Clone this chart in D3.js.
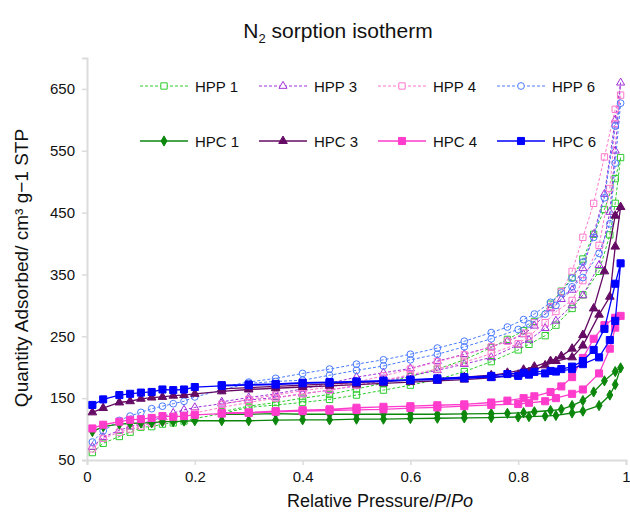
<!DOCTYPE html>
<html>
<head>
<meta charset="UTF-8">
<title>N2 sorption isotherm</title>
<script src="https://d3js.org/d3.v7.min.js"></script>
<style>
  body { margin: 0; background: #fff; }
  text { font-family: "Liberation Sans", Arial, Helvetica, sans-serif; fill: #111; }
</style>
</head>
<body>
<div class="canvas"></div>
<script>
// pressure grids (adsorption up, desorption down)
const adsP = [0.01, 0.03, 0.06, 0.08, 0.10, 0.12, 0.14, 0.16, 0.18, 0.20, 0.25, 0.30, 0.35, 0.40, 0.45, 0.50,
              0.55, 0.60, 0.65, 0.70, 0.75, 0.80, 0.82, 0.85, 0.87, 0.90, 0.92, 0.95, 0.97, 0.98, 0.99];
const desP = [0.98, 0.96, 0.94, 0.92, 0.90, 0.88, 0.86, 0.83, 0.81, 0.78, 0.75, 0.70, 0.65, 0.60, 0.55, 0.50,
              0.45, 0.40, 0.35, 0.30, 0.25];

// quantity adsorbed, cm3/g STP
const hpp1Ads = [62, 77, 88, 95, 103, 104, 108, 110, 113, 117, 125, 135, 139, 143, 148, 155,
                 163, 171, 180, 193, 209, 228, 237, 251, 268, 295, 317, 355, 414, 465, 539];
const hpp1Des = [505, 455, 415, 375, 345, 323, 302, 274, 259, 245, 232, 212, 197, 185, 174, 165,
                 156, 150, 143, 137, 128];
const hpp3Ads = [71, 87, 98, 104, 109, 113, 120, 126, 131, 135, 141, 147, 151, 157, 163, 170,
                 178, 186, 195, 205, 216, 236, 244, 263, 275, 300, 316, 365, 451, 550, 660];
const hpp3Des = [600, 480, 415, 360, 325, 310, 295, 267, 253, 242, 233, 221, 210, 198, 191, 184,
                 174, 165, 157, 151, 144];
const hpp4Ads = [68, 85, 95, 100, 105, 109, 113, 118, 122, 126, 135, 143, 150, 157, 163, 171,
                 179, 188, 197, 208, 222, 238, 250, 272, 290, 308, 340, 397, 489, 594, 640];
const hpp4Des = [617, 540, 465, 410, 355, 322, 298, 272, 255, 242, 233, 220, 209, 197, 186, 176,
                 168, 162, 155, 148, 140];
const hpp6Ads = [79, 97, 114, 121, 127, 133, 137, 141, 145, 152, 163, 174, 177, 179, 187, 195,
                 202, 212, 221, 233, 246, 261, 270, 286, 300, 330, 345, 384, 432, 530, 627];
const hpp6Des = [590, 474, 410, 370, 344, 320, 305, 286, 277, 265, 256, 242, 231, 221, 212, 205,
                 197, 190, 182, 176, 168];
const hpc1Ads = [96, 104, 108, 109, 110, 110, 112, 112, 113, 113.5, 113.5, 113.5, 114.5, 115, 115, 116,
                 116, 117, 117.5, 118, 118.5, 119.5, 120, 121, 122, 126, 129, 138, 155, 172, 199];
const hpc1Des = [193, 178, 160, 146, 138, 132, 130, 128, 126.5, 125.5, 125, 124.5, 124, 124, 124, 124,
                 124, 124, 125, 124, 124];
const hpc3Ads = [127, 134, 143, 145, 149, 151, 152, 154, 155, 157, 161, 164, 166, 168, 170, 172,
                 174, 176, 178, 180, 183, 188, 192, 203, 210, 216, 235, 285, 314, 395, 459];
const hpc3Des = [445, 355, 295, 252, 230, 218, 210, 201, 196, 191, 187, 184, 181, 179, 177, 175,
                 173, 171, 169, 167, 165];
const hpc4Ads = [101, 107, 112, 115, 116, 118, 121, 120, 121, 123, 125, 126, 128, 129, 130, 131,
                 132, 134, 135, 137, 139, 140.5, 142.5, 145, 150, 157, 164, 190, 230, 264, 283];
const hpc4Des = [280, 268, 246, 215, 184, 169, 160, 153, 150, 146, 143, 140, 138.5, 137, 136, 134.5,
                 132, 130.5, 129, 127, 126];
const hpc6Ads = [139, 148, 155, 157, 159, 160, 164, 163, 164, 168, 170, 171, 172, 174, 175, 176,
                 177, 179, 180, 182, 184, 186, 188, 190, 193, 197, 205, 216, 244, 275, 368];
const hpc6Des = [335, 262, 228, 210, 201, 197, 194, 192.5, 191, 189, 186, 184, 182, 180, 178.5, 177,
                 176, 175, 173, 172, 171];

const yTicks = [50, 150, 250, 350, 450, 550, 650];
const xTicks = [0, 0.2, 0.4, 0.6, 0.8, 1];

const series = [
  {name: 'HPP 1', ads: hpp1Ads, des: hpp1Des, color: '#2ccc2c', dash: '3,2', sym: d3.symbolSquare, size: 40, fill: false},
  {name: 'HPP 3', ads: hpp3Ads, des: hpp3Des, color: '#a030d8', dash: '3,2', sym: d3.symbolTriangle, size: 28, fill: false},
  {name: 'HPP 4', ads: hpp4Ads, des: hpp4Des, color: '#ff77cc', dash: '3,2', sym: d3.symbolSquare, size: 40, fill: false},
  {name: 'HPP 6', ads: hpp6Ads, des: hpp6Des, color: '#4a7bff', dash: '3,2', sym: d3.symbolCircle, size: 36, fill: false},
  {name: 'HPC 1', ads: hpc1Ads, des: hpc1Des, color: '#0c870c', dash: null, sym: d3.symbolDiamond, size: 30, fill: true},
  {name: 'HPC 3', ads: hpc3Ads, des: hpc3Des, color: '#650b65', dash: null, sym: d3.symbolTriangle, size: 32, fill: true},
  {name: 'HPC 4', ads: hpc4Ads, des: hpc4Des, color: '#ff3ccc', dash: null, sym: d3.symbolSquare, size: 50, fill: true},
  {name: 'HPC 6', ads: hpc6Ads, des: hpc6Des, color: '#0000ff', dash: null, sym: d3.symbolSquare, size: 50, fill: true}
];

const width = 630, height = 516;
const x = d3.scaleLinear().domain([0, 1]).range([87, 626]);
const y = d3.scaleLinear().domain([50, 700]).range([460, 58]);

const svg = d3.select('.canvas').append('svg')
  .attr('width', width).attr('height', height);

// title
const title = svg.append('text')
  .attr('x', 338).attr('y', 38)
  .attr('text-anchor', 'middle')
  .style('font-size', '21px');
title.append('tspan').text('N');
title.append('tspan').attr('dy', 5).style('font-size', '13px').text('2');
title.append('tspan').attr('dy', -5).text(' sorption isotherm');

// axes
const xAxis = svg.append('g').attr('transform', 'translate(0,460)')
  .call(d3.axisBottom(x).tickValues(xTicks).tickSize(5).tickPadding(6)
    .tickFormat(d => d === 0 ? '0' : d === 1 ? '1' : d3.format('.1f')(d)));
const yAxis = svg.append('g').attr('transform', 'translate(87,0)')
  .call(d3.axisLeft(y).tickValues(yTicks).tickSize(5).tickPadding(7));
[xAxis, yAxis].forEach(g => {
  g.select('.domain').attr('stroke', '#dcdcdc').attr('stroke-width', 2);
  g.selectAll('.tick line').attr('stroke', '#dcdcdc').attr('stroke-width', 1.5);
  g.selectAll('.tick text').style('font-size', '15px').attr('fill', '#111')
    .style('font-family', '"Liberation Sans", Arial, sans-serif');
});

// axis labels
svg.append('text')
  .attr('transform', 'translate(28,268) rotate(-90)')
  .attr('text-anchor', 'middle')
  .style('font-size', '19px')
  .text('Quantity Adsorbed/ cm³ g−1 STP');

const xl = svg.append('text')
  .attr('x', 380).attr('y', 507)
  .attr('text-anchor', 'middle')
  .style('font-size', '18px');
xl.append('tspan').text('Relative Pressure/');
xl.append('tspan').style('font-style', 'italic').text('P');
xl.append('tspan').text('/');
xl.append('tspan').style('font-style', 'italic').text('Po');

// series
const line = d3.line().x(d => x(d[0])).y(d => y(d[1]));
const sym = d3.symbol();

series.forEach(s => {
  const pts = adsP.map((p, i) => [p, s.ads[i]]).concat(desP.map((p, i) => [p, s.des[i]]));
  const g = svg.append('g');
  g.append('path')
    .attr('d', line(pts))
    .attr('fill', 'none')
    .attr('stroke', s.color)
    .attr('stroke-width', s.fill ? 1.3 : 1)
    .attr('stroke-dasharray', s.dash);
  g.selectAll('path.m')
    .data(pts)
    .enter().append('path')
    .attr('class', 'm')
    .attr('transform', d => `translate(${x(d[0])},${y(d[1])})`)
    .attr('d', sym.type(s.sym).size(s.size)())
    .attr('fill', s.fill ? s.color : 'none')
    .attr('stroke', s.color)
    .attr('stroke-width', 1);
});

// legend
series.forEach((s, i) => {
  const col = i % 4, row = Math.floor(i / 4);
  const x0 = 140 + col * 119, y0 = row === 0 ? 86 : 141;
  const g = svg.append('g');
  g.append('line')
    .attr('x1', x0).attr('x2', x0 + 48)
    .attr('y1', y0).attr('y2', y0)
    .attr('stroke', s.color)
    .attr('stroke-width', s.fill ? 1.3 : 1)
    .attr('stroke-dasharray', s.dash);
  g.append('path')
    .attr('transform', `translate(${x0 + 24},${y0})`)
    .attr('d', sym.type(s.sym).size(s.size)())
    .attr('fill', s.fill ? s.color : '#fff')
    .attr('stroke', s.color);
  g.append('text')
    .attr('x', x0 + 55).attr('y', y0 + 5.5)
    .style('font-size', '15px')
    .text(s.name);
});
</script>
</body>
</html>
